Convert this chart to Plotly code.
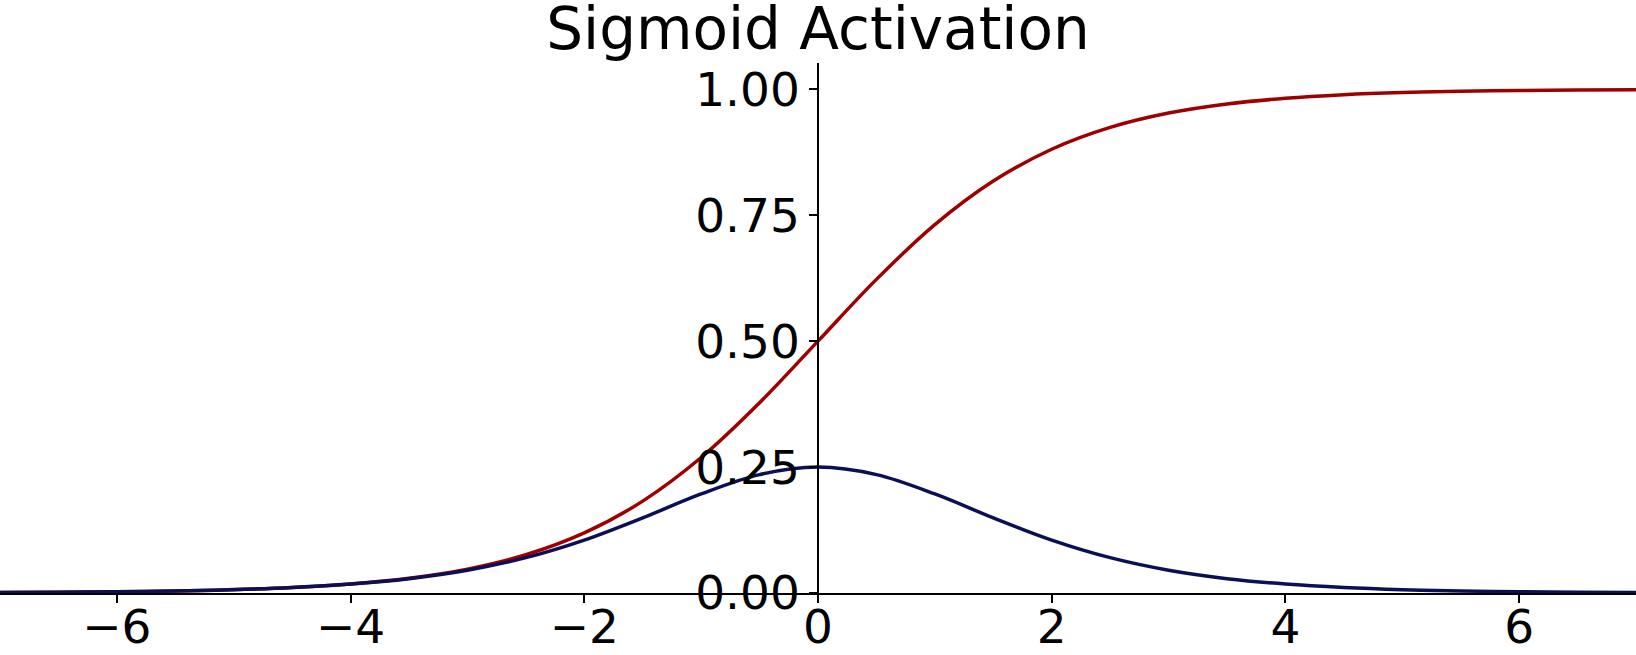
import plotly.graph_objects as go

x_vals = [-7.0, -6.5, -6.0, -5.5, -5.0, -4.5, -4.0, -3.5, -3.0, -2.5, -2.0, -1.5, -1.0, -0.5,
          0.0, 0.5, 1.0, 1.5, 2.0, 2.5, 3.0, 3.5, 4.0, 4.5, 5.0, 5.5, 6.0, 6.5, 7.0]
sigmoid_vals = [0.0009, 0.0015, 0.0025, 0.0041, 0.0067, 0.0110, 0.0180, 0.0293, 0.0474, 0.0759,
                0.1192, 0.1824, 0.2689, 0.3775, 0.5000, 0.6225, 0.7311, 0.8176, 0.8808, 0.9241,
                0.9526, 0.9707, 0.9820, 0.9890, 0.9933, 0.9959, 0.9975, 0.9985, 0.9991]
derivative_vals = [0.0009, 0.0015, 0.0025, 0.0041, 0.0066, 0.0109, 0.0177, 0.0285, 0.0452, 0.0701,
                   0.1050, 0.1491, 0.1966, 0.2350, 0.2500, 0.2350, 0.1966, 0.1491, 0.1050, 0.0701,
                   0.0452, 0.0285, 0.0177, 0.0109, 0.0066, 0.0041, 0.0025, 0.0015, 0.0009]
x_ticks = [-6, -4, -2, 0, 2, 4, 6]
y_ticks = [0.0, 0.25, 0.5, 0.75, 1.0]
title_text = "Sigmoid Activation"

fig = go.Figure()
fig.add_trace(go.Scatter(x=x_vals, y=sigmoid_vals, mode="lines",
                         line=dict(color="#9e0000", width=3.5, shape="spline"),
                         showlegend=False))
fig.add_trace(go.Scatter(x=x_vals, y=derivative_vals, mode="lines",
                         line=dict(color="#0b0f55", width=3.5, shape="spline"),
                         showlegend=False))

font_family = "DejaVu Sans"
fig.update_layout(
    width=1636, height=655,
    margin=dict(l=0, r=0, t=63, b=62, autoexpand=False),
    paper_bgcolor="white", plot_bgcolor="white",
    font=dict(family=font_family, color="black"),
    title=dict(text=title_text, x=0.5, xanchor="center", xref="paper",
               y=1 - 29 / 655, yref="container", yanchor="middle",
               font=dict(size=58, family=font_family, color="black")),
    xaxis=dict(range=[-7, 7], tickvals=x_ticks,
               ticktext=[("\u2212" if v < 0 else "") + str(abs(v)) for v in x_ticks],
               automargin=False, ticklabelstandoff=-16,
               showgrid=False, zeroline=False, showline=True, linecolor="black", linewidth=1.5,
               ticks="outside", ticklen=8, tickwidth=1.5, tickcolor="black",
               tickfont=dict(size=47, family=font_family, color="black")),
    yaxis=dict(range=[0, 1.052], tickvals=y_ticks, tickformat=".2f",
               anchor="free", position=0.5, side="left", automargin=False,
               showgrid=False, zeroline=False, showline=True, linecolor="black", linewidth=1.5,
               ticks="outside", ticklen=8, tickwidth=1.5, tickcolor="black",
               tickfont=dict(size=47, family=font_family, color="black")),
)

fig.write_html("out.html")
